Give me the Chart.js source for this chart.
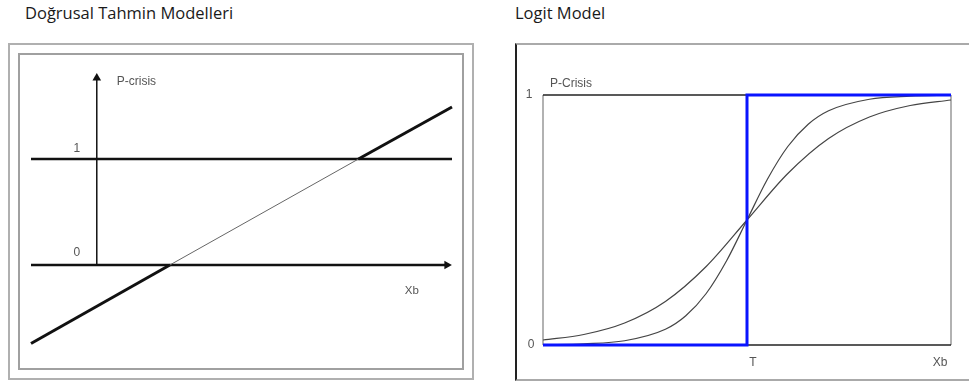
<!DOCTYPE html>
<html>
<head>
<meta charset="utf-8">
<script src="https://cdn.jsdelivr.net/npm/chart.js@4.4.1/dist/chart.umd.min.js"></script>
<style>
    html, body { margin: 0; padding: 0; background: #fff; overflow: hidden; }
    body { width: 969px; height: 385px; position: relative; }
    .title { position: absolute; top: 1px; font-family: 'Open Sans', sans-serif; font-size: 16.5px; color: #1a1a1a; }
    .box { position: absolute; box-sizing: border-box; }
    .holder { position: absolute; }
</style>
</head>
<body>
<div class="title" style="left:25px">Doğrusal Tahmin Modelleri</div>
<div class="title" style="left:515px">Logit Model</div>

<div class="box" style="left:8px;top:43px;width:466px;height:337px;border:2px solid #b0b0b0"></div>
<div class="box" style="left:18px;top:53px;width:446px;height:317px;border:2px solid #a0a0a0"></div>
<div class="box" style="left:515px;top:43px;width:520px;height:338px;border-top:2px solid #aaa;border-bottom:2px solid #aaa;border-left:2px solid #222"></div>

<div class="holder" style="left:8px;top:44px;width:465px;height:336px"><canvas id="linear-chart"></canvas></div>
<div class="holder" style="left:516px;top:44px;width:453px;height:336px"><canvas id="logit-chart"></canvas></div>

<script>
// left panel: linear probability model
var linearXb = [-0.9, 1, 3.58, 4.86];
var linearP = [-0.74, 0, 1, 1.49];
var boundXb = [-0.9, 4.86];
var xArrowXb = [-0.9, 4.79];
var yArrowP = [0, 1.764];
var linearTicks = ['0', '1'];
var linearAxisNames = ['P-crisis', 'Xb'];

// right panel: logit model
var logitXb = [0, 1, 2, 3, 4, 5, 6, 7, 8, 9, 10];
var pShallow = [0.020, 0.042, 0.088, 0.174, 0.314, 0.5, 0.686, 0.826, 0.912, 0.958, 0.980];
var steepXb = [0, 1, 2, 3, 3.5, 4, 4.5, 5, 5.5, 6, 6.5, 7, 8, 9, 10];
var pSteep = [0.001, 0.005, 0.017, 0.063, 0.117, 0.206, 0.337, 0.5, 0.663, 0.794, 0.883, 0.937, 0.983, 0.995, 0.999];
var stepXb = [0, 5, 5, 10];
var stepP = [0, 0, 1, 1];
var frameXb = [0, 0, 10, 10, 0];
var frameP = [0, 1, 1, 0, 0];
var logitTicks = ['0', '1', 'T'];
var logitAxisNames = ['P-Crisis', 'Xb'];

function pts(xs, ys) {
    return xs.map(function (v, i) { return { x: v, y: ys[i] }; });
}

var textLabels = {
    id: 'textLabels',
    afterDatasetsDraw: function (chart, args, opts) {
        var ctx = chart.ctx;
        var xs = chart.scales.x, ys = chart.scales.y;
        ctx.save();
        ctx.textBaseline = 'middle';
        opts.items.forEach(function (it) {
            ctx.font = it.font || '12px "Liberation Sans", Arial, sans-serif';
            ctx.fillStyle = it.color || '#555';
            ctx.textAlign = it.align || 'center';
            ctx.fillText(it.text, xs.getPixelForValue(it.x) + (it.dx || 0), ys.getPixelForValue(it.y) + (it.dy || 0));
        });
        ctx.restore();
    }
};

function baseOptions(xmin, xmax, ymin, ymax, padding, items) {
    return {
        responsive: true,
        maintainAspectRatio: false,
        animation: false,
        devicePixelRatio: 1,
        layout: { padding: padding },
        plugins: {
            legend: { display: false },
            tooltip: { enabled: false },
            textLabels: { items: items }
        },
        elements: { point: { radius: 0 } },
        scales: {
            x: { type: 'linear', min: xmin, max: xmax, display: false },
            y: { type: 'linear', min: ymin, max: ymax, display: false }
        }
    };
}

new Chart($('linear-chart'), {
    type: 'line',
    data: {
        datasets: [{
            data: pts(linearXb, linearP),
            borderColor: '#111',
            borderWidth: 3,
            clip: false,
            segment: {
                borderWidth: function (c) { return c.p0DataIndex === 1 ? 1 : 3; },
                borderColor: function (c) { return c.p0DataIndex === 1 ? '#666' : '#111'; }
            }
        }, {
            data: pts(boundXb, [1, 1]),
            borderColor: '#111',
            borderWidth: 2.5,
            clip: false
        }, {
            data: pts(xArrowXb, [0, 0]),
            borderColor: '#111',
            borderWidth: 2.5,
            pointRadius: [0, 5],
            pointStyle: 'triangle',
            rotation: 90,
            pointBackgroundColor: '#111',
            pointBorderWidth: 0,
            clip: false
        }, {
            data: pts([0, 0], yArrowP),
            borderColor: '#111',
            borderWidth: 1.5,
            pointRadius: [0, 5],
            pointStyle: 'triangle',
            rotation: 0,
            pointBackgroundColor: '#111',
            pointBorderWidth: 0,
            clip: false
        }]
    },
    plugins: [textLabels],
    options: baseOptions(-0.9, 4.86, -1, 2, { left: 23, right: 21, top: 9, bottom: 9 }, [
        { text: linearTicks[1], x: 0, y: 1, dx: -20, dy: -10 },
        { text: linearTicks[0], x: 0, y: 0, dx: -20, dy: -12 },
        { text: linearAxisNames[0], x: 0, y: 1.764, dx: 20, dy: 4, align: 'left' },
        { text: linearAxisNames[1], x: 4.31, y: 0, dy: 26, font: '11.5px "Liberation Sans", Arial, sans-serif' }
    ])
});

new Chart($('logit-chart'), {
    type: 'line',
    data: {
        datasets: [{
            data: pts(stepXb, stepP),
            borderColor: '#0a14ff',
            borderWidth: 3,
            clip: false
        }, {
            data: pts(steepXb, pSteep),
            borderColor: '#444',
            borderWidth: 1.2,
            cubicInterpolationMode: 'monotone',
            clip: false
        }, {
            data: pts(logitXb, pShallow),
            borderColor: '#444',
            borderWidth: 1.2,
            cubicInterpolationMode: 'monotone',
            clip: false
        }, {
            data: pts(frameXb, frameP),
            borderWidth: 1.5,
            borderColor: '#222',
            clip: false,
            segment: {
                borderColor: function (c) { return c.p0DataIndex % 2 === 0 ? '#999' : '#222'; }
            }
        }]
    },
    plugins: [textLabels],
    options: baseOptions(0, 10, 0, 1, { left: 27, right: 18, top: 51, bottom: 35 }, [
        { text: logitTicks[1], x: 0, y: 1, dx: -14 },
        { text: logitTicks[0], x: 0, y: 0, dx: -12 },
        { text: logitAxisNames[0], x: 0, y: 1, dx: 7, dy: -11, align: 'left' },
        { text: logitTicks[2], x: 5, y: 0, dx: 6, dy: 18 },
        { text: logitAxisNames[1], x: 10, y: 0, dx: -11, dy: 18 }
    ])
});

function $(id) { return document.getElementById(id); }
</script>
</body>
</html>
